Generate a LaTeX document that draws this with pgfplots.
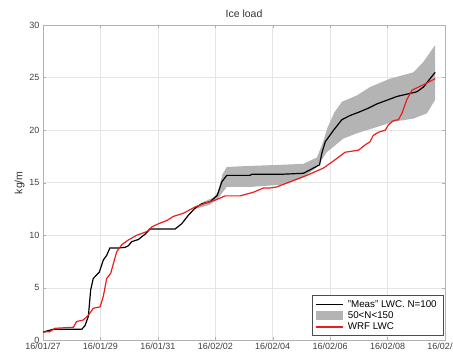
\documentclass[border=0pt]{standalone}
\usepackage{pgfplots}
\pgfplotsset{compat=1.18}
\usepackage{fontspec}
\setmainfont{Liberation Sans}
\definecolor{bandgray}{RGB}{180,180,180}
\definecolor{wrfred}{RGB}{235,30,30}
\begin{document}
\begin{tikzpicture}
\begin{axis}[
  scale only axis,
  width=402pt, height=315.5pt,
  xmin=0, xmax=14, ymin=0, ymax=30,
  xtick={0,2,...,14},
  xticklabels={16/01/27,16/01/29,16/01/31,16/02/02,16/02/04,16/02/06,16/02/08,16/02/10},
  ytick={0,5,...,30},
  /pgf/number format/assume math mode=true,
  tick label style={font=\fontsize{9}{10}\selectfont, text=black!75},
  xticklabel style={yshift=1pt},
  grid=major,
  major grid style={gray!20, line width=0.5pt},
  axis line style={gray!60},
  tick align=inside,
  major tick length=3pt,
  tick style={gray!60},
  title={Ice load},
  title style={font=\fontsize{10.5}{12}\selectfont, text=black!80, yshift=-2pt},
  ylabel={kg/m},
  ylabel style={font=\fontsize{10.5}{12}\selectfont, text=black!80, yshift=-2pt},
  legend cell align=left,
  legend style={at={(1,0)}, anchor=south east, xshift=-1pt, yshift=4.5pt,
    font=\fontsize{9.8}{10}\selectfont, draw=black!70, line width=0.6pt,
    row sep=-1pt, inner xsep=3pt, inner ysep=2.5pt,
    nodes={inner xsep=4pt}},
  legend image post style={xscale=1.6},
]
\addlegendimage{black, line width=1.2pt}
\addlegendentry{"Meas" LWC. N=100}
\addplot[fill=bandgray, draw=none,
  legend image code/.code={\fill[bandgray] (0pt,-4.5pt) rectangle (17pt,4.5pt);}] coordinates {
(5.3,12.7) (5.6,13.2) (5.95,13.6) (6.1,14.2) (6.25,15.8) (6.4,16.5) (7.2,16.6) (8.26,16.7)
(9.07,16.8) (9.54,17.4) (9.77,19.0) (9.9,20.2) (10.15,21.7) (10.41,22.7) (10.93,23.3)
(11.39,24.1) (12.09,24.9) (12.9,25.5) (13.25,26.5) (13.66,28.1)
(13.66,22.9) (13.37,21.6) (12.9,21.1) (12.2,20.8) (11.63,20.3) (10.93,19.7) (10.46,19.2)
(9.88,17.9) (9.54,16.5) (9.07,15.5) (8.49,14.9) (8.26,14.8) (7.2,14.6) (6.4,14.6)
(6.23,14.0) (6.07,13.4) (5.8,12.9) (5.3,12.5)
} -- cycle;
\addlegendentry{50<N<150}
\addplot[black, line width=1.2pt, forget plot] coordinates {
(0,0.8) (0.36,1.07) (1.35,1.07) (1.46,1.4) (1.58,2.3) (1.66,4.8) (1.75,5.9) (1.96,6.5)
(2.1,7.65) (2.22,8.1) (2.33,8.8) (2.62,8.8) (2.85,8.85) (2.97,9.0) (3.09,9.4) (3.32,9.6)
(3.55,10.1) (3.73,10.6) (4.6,10.6) (4.83,11.1) (5.06,11.9) (5.3,12.6) (5.53,13.0)
(5.82,13.2) (6.07,13.8) (6.23,15.1) (6.4,15.7) (7.2,15.7) (7.27,15.8) (8.26,15.8)
(9.07,15.9) (9.42,16.4) (9.63,16.7) (9.71,17.8) (9.83,18.9) (10.12,20.0) (10.41,21.0)
(10.7,21.4) (10.99,21.7) (11.34,22.1) (11.63,22.5) (12.03,22.9) (12.32,23.2) (12.79,23.5)
(13.02,23.65) (13.25,24.1) (13.48,24.9) (13.66,25.5)
};
\addplot[wrfred, line width=1.2pt] coordinates {
(0,0.8) (0.24,0.84) (0.42,1.16) (1.06,1.26) (1.17,1.8) (1.4,1.95) (1.58,2.4) (1.75,3.06)
(1.99,3.2) (2.1,4.2) (2.22,5.9) (2.36,6.4) (2.47,7.5) (2.57,8.45) (2.74,9.1) (2.97,9.55)
(3.26,10.0) (3.61,10.35) (3.79,10.8) (4.02,11.1) (4.31,11.4) (4.54,11.8) (4.89,12.1)
(5.3,12.7) (5.7,13.1) (6.05,13.4) (6.34,13.75) (6.86,13.75) (7.33,14.1) (7.68,14.5)
(7.91,14.5) (8.14,14.6) (8.61,15.1) (9.19,15.7) (9.77,16.4) (10.23,17.3) (10.52,17.9)
(10.99,18.1) (11.22,18.6) (11.39,18.9) (11.5,19.5) (11.68,19.8) (11.92,20.0) (12.03,20.5)
(12.2,20.9) (12.38,21.0) (12.5,21.6) (12.67,22.9) (12.85,23.8) (13.08,24.1) (13.31,24.4)
(13.66,24.9)
};
\addlegendentry{WRF LWC}
\end{axis}
\pgfresetboundingbox
\useasboundingbox (-43pt,-11.5pt) rectangle (410pt,340.5pt);
\end{tikzpicture}
\end{document}
